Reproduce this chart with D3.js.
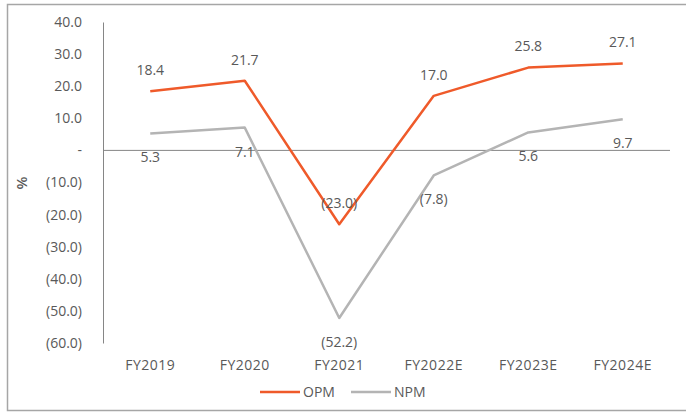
<!DOCTYPE html>
<html>
<head>
<meta charset="utf-8">
<script src="https://cdn.jsdelivr.net/npm/d3@7"></script>
<style>
  body { margin: 0; background: #fff; }
  svg { display: block; font-family: "Open Sans", sans-serif; }
</style>
</head>
<body>
<svg id="chart" width="686" height="412"></svg>
<script>
// data
const years = ["FY2019", "FY2020", "FY2021", "FY2022E", "FY2023E", "FY2024E"];
const opm = [18.4, 21.7, -23.0, 17.0, 25.8, 27.1];
const npm = [5.3, 7.1, -52.2, -7.8, 5.6, 9.7];
const yTicks = [40, 30, 20, 10, 0, -10, -20, -30, -40, -50, -60];

const svg = d3.select("#chart");
const textCol = "#595959";

// outer frame
svg.append("rect")
    .attr("x", 7.5).attr("y", 4.5)
    .attr("width", 690).attr("height", 406)
    .attr("fill", "none").attr("stroke", "#a6a6a6").attr("stroke-width", 1.5);

const x = d3.scalePoint().domain(years).range([103, 670]).padding(0.5);
const y = d3.scaleLinear().domain([-60, 40]).range([343, 22]);

const fmt = v => v === 0 ? "-" : (v < 0 ? "(" + d3.format(".1f")(-v) + ")" : d3.format(".1f")(v));

// y axis
const yAxis = svg.append("g")
    .attr("transform", "translate(103,0)")
    .call(d3.axisLeft(y).tickValues(yTicks).tickFormat(fmt).tickSize(0).tickPadding(21));
yAxis.select(".domain").attr("stroke", "#868686");
yAxis.selectAll("text").attr("fill", textCol).style("font-size", "14px").style("font-family", "Open Sans");

// zero line
svg.append("line")
    .attr("x1", 103).attr("x2", 670)
    .attr("y1", y(0)).attr("y2", y(0))
    .attr("stroke", "#868686");

// x labels
svg.append("g").selectAll("text")
    .data(years).join("text")
    .attr("x", d => x(d)).attr("y", 365)
    .attr("dy", "0.35em")
    .attr("text-anchor", "middle")
    .attr("fill", textCol).style("font-size", "14px")
    .style("letter-spacing", "0.5px")
    .text(d => d);

svg.append("text")
    .attr("transform", "translate(22,183) rotate(-90)")
    .attr("text-anchor", "middle").attr("dy", "0.35em")
    .attr("fill", textCol).style("font-size", "15px").style("font-weight", "600")
    .text("%");

const line = d3.line().x((d, i) => x(years[i])).y(d => y(d));

const series = [
    { name: "OPM", values: opm, color: "#EF5A2A", dy: -21 },
    { name: "NPM", values: npm, color: "#B4B4B4", dy: 24 }
];

// draw NPM first so OPM sits on top
series.slice().reverse().forEach(s => {
    svg.append("path")
        .datum(s.values)
        .attr("fill", "none")
        .attr("stroke", s.color)
        .attr("stroke-width", 2.5)
        .attr("stroke-linejoin", "round")
        .attr("d", line);
});

series.forEach(s => {
    svg.append("g").selectAll("text")
        .data(s.values).join("text")
        .attr("x", (d, i) => x(years[i]))
        .attr("y", d => y(d) + s.dy)
        .attr("dy", "0.35em")
        .attr("text-anchor", "middle")
        .attr("fill", textCol).style("font-size", "14px")
        .text(d => fmt(d));
});

// legend
const leg = svg.append("g");
const legX = [260, 351];
series.forEach((s, i) => {
    leg.append("line")
        .attr("x1", legX[i]).attr("x2", legX[i] + 40)
        .attr("y1", 392).attr("y2", 392)
        .attr("stroke", s.color).attr("stroke-width", 2.5);
    leg.append("text")
        .attr("x", legX[i] + 43).attr("y", 392)
        .attr("dy", "0.35em")
        .attr("fill", textCol).style("font-size", "14px")
        .text(s.name);
});
</script>
</body>
</html>
